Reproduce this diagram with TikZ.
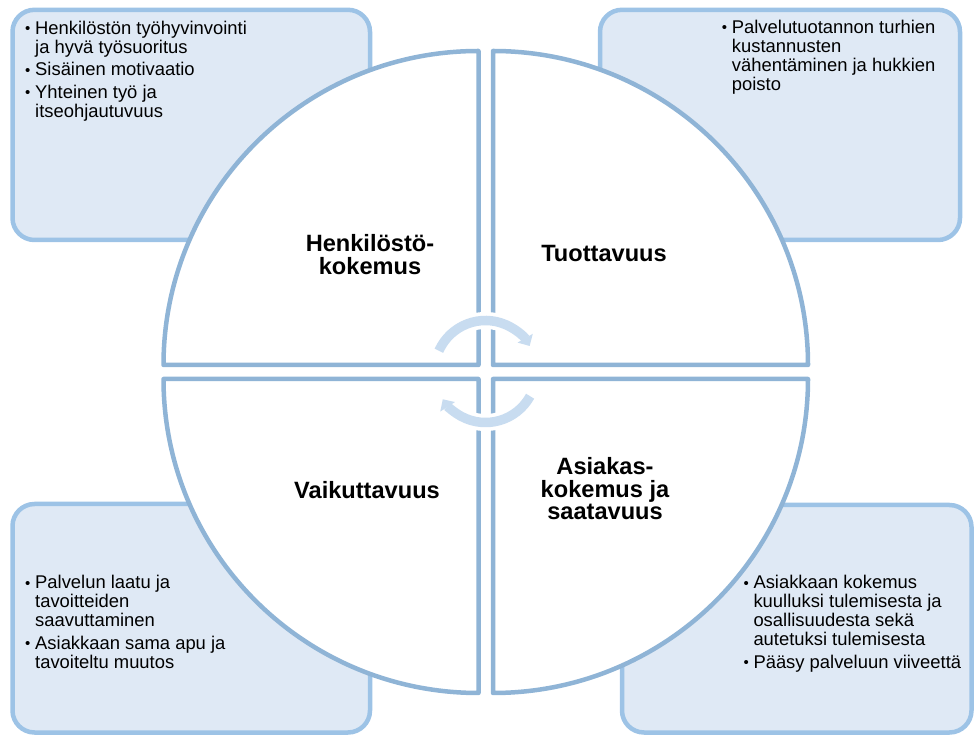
\documentclass[tikz,border=0pt]{standalone}
\usepackage{fontspec}
\setmainfont{Liberation Sans}
\usetikzlibrary{arrows.meta}
\definecolor{ink}{HTML}{000000}
\definecolor{boxfill}{HTML}{DFE9F5}
\definecolor{boxline}{HTML}{9DC3E6}
\definecolor{pieline}{HTML}{8FB4D6}
\definecolor{cycleblue}{HTML}{C8DCF0}
\newcommand{\bodysize}{\fontsize{18.4}{19}\selectfont}
\newcommand{\headsize}{\fontsize{23.6}{22.5}\selectfont\bfseries}
% one bullet paragraph, later lines hang under the text
\newcommand{\bitem}[1]{\par\hangindent=10pt\hangafter=1\noindent
  \makebox[10pt][l]{\raisebox{0.5pt}{\fontsize{15}{15}\selectfont\textbullet}}#1}
\newcommand{\bulletlist}[1]{\parbox[t]{340pt}{\rightskip=0pt plus 1fil\parskip=3.5pt #1}}
\newcommand{\headtext}[1]{\parbox[t]{220pt}{\centering #1}}
\tikzset{
  every picture/.style = {line join=round, text=ink},
  infobox/.style       = {draw=boxline, fill=boxfill, line width=4.5pt, rounded corners=22pt},
  quarter/.style       = {draw=pieline, fill=white, line width=4.5pt},
  halo/.style          = {draw=white, line width=17pt},
  cyclearrow/.style    = {draw=cycleblue, line width=9.5pt, -{Triangle[width=17pt,length=9pt]}},
  bullets/.style       = {anchor=base west, inner sep=0pt, font=\bodysize},
  heading/.style       = {anchor=base, inner sep=0pt, font=\headsize},
}

\begin{document}
\begin{tikzpicture}[x=1pt, y=1pt]
  \useasboundingbox (0,0) rectangle (974,736);
  \def\Rx{315}\def\Ry{314}\def\Rc{51}   % quarter radii, cycle radius

  \coordinate (tl) at (478.5,371);
  \coordinate (tr) at (493,371);
  \coordinate (bl) at (478.5,357);
  \coordinate (br) at (493,357);
  \coordinate (hub) at (485.5,364.5);

  % ---------- corner boxes ----------------------------------------------------
  \draw[infobox] (12.5,496) rectangle (370,726.2);
  \draw[infobox] (600,496)  rectangle (960,726.2);
  \draw[infobox] (12.5,3.5) rectangle (370,232);
  \draw[infobox] (622,3.5)  rectangle (971.5,231);

  % ---------- the four quarters -------------------------------------------------
  \draw[quarter] (tl) -- ++(-\Rx,0) arc[start angle=180, end angle=90, x radius=\Rx, y radius=\Ry] -- cycle;
  \draw[quarter] (tr) -- ++(0,\Ry) arc[start angle=90, end angle=0, x radius=\Rx, y radius=\Ry] -- cycle;
  \draw[quarter] (br) -- ++(\Rx,0) arc[start angle=0, end angle=-90, x radius=\Rx, y radius=\Ry] -- cycle;
  \draw[quarter] (bl) -- ++(0,-\Ry) arc[start angle=270, end angle=180, x radius=\Rx, y radius=\Ry] -- cycle;

  % ---------- cycle arrows in the middle ----------------------------------------
  \draw[halo] (hub) ++(156:\Rc) arc[start angle=156, end angle=30, radius=\Rc];
  \draw[cyclearrow] (hub) ++(156:\Rc) arc[start angle=156, end angle=30, radius=\Rc];
  \draw[halo] (hub) ++(-29:\Rc) arc[start angle=-29, end angle=-147, radius=\Rc];
  \draw[cyclearrow] (hub) ++(-29:\Rc) arc[start angle=-29, end angle=-147, radius=\Rc];

  % ---------- headings ------------------------------------------------------------
  \node[heading] (staff)   at (370,484.3) {\headtext{Henkilöstö-\\kokemus}};
  \node[heading] (prod)    at (604,474.5) {\headtext{Tuottavuus}};
  \node[heading] (impact)  at (367,237)   {\headtext{Vaikuttavuus}};
  \node[heading] (client)  at (605,261)   {\headtext{Asiakas-\\kokemus ja\\saatavuus}};

  % ---------- bullet texts --------------------------------------------------------
  \node[bullets] (staffnotes) at (25,701.7) {\bulletlist{%
    \bitem{Henkilöstön työhyvinvointi\\ja hyvä työsuoritus}
    \bitem{Sisäinen motivaatio}
    \bitem{Yhteinen työ ja\\itseohjautuvuus}}};
  \node[bullets] (prodnotes) at (721.7,702.7) {\bulletlist{%
    \bitem{Palvelutuotannon turhien\\kustannusten\\vähentäminen ja hukkien\\poisto}}};
  \node[bullets] (impactnotes) at (25,147) {\bulletlist{%
    \bitem{Palvelun laatu ja\\tavoitteiden\\saavuttaminen}
    \bitem{Asiakkaan sama apu ja\\tavoiteltu muutos}}};
  \node[bullets] (clientnotes) at (743.3,147) {\bulletlist{%
    \bitem{Asiakkaan kokemus\\kuulluksi tulemisesta ja\\osallisuudesta sekä\\autetuksi tulemisesta}
    \bitem{Pääsy palveluun viiveettä}}};
\end{tikzpicture}
\end{document}
